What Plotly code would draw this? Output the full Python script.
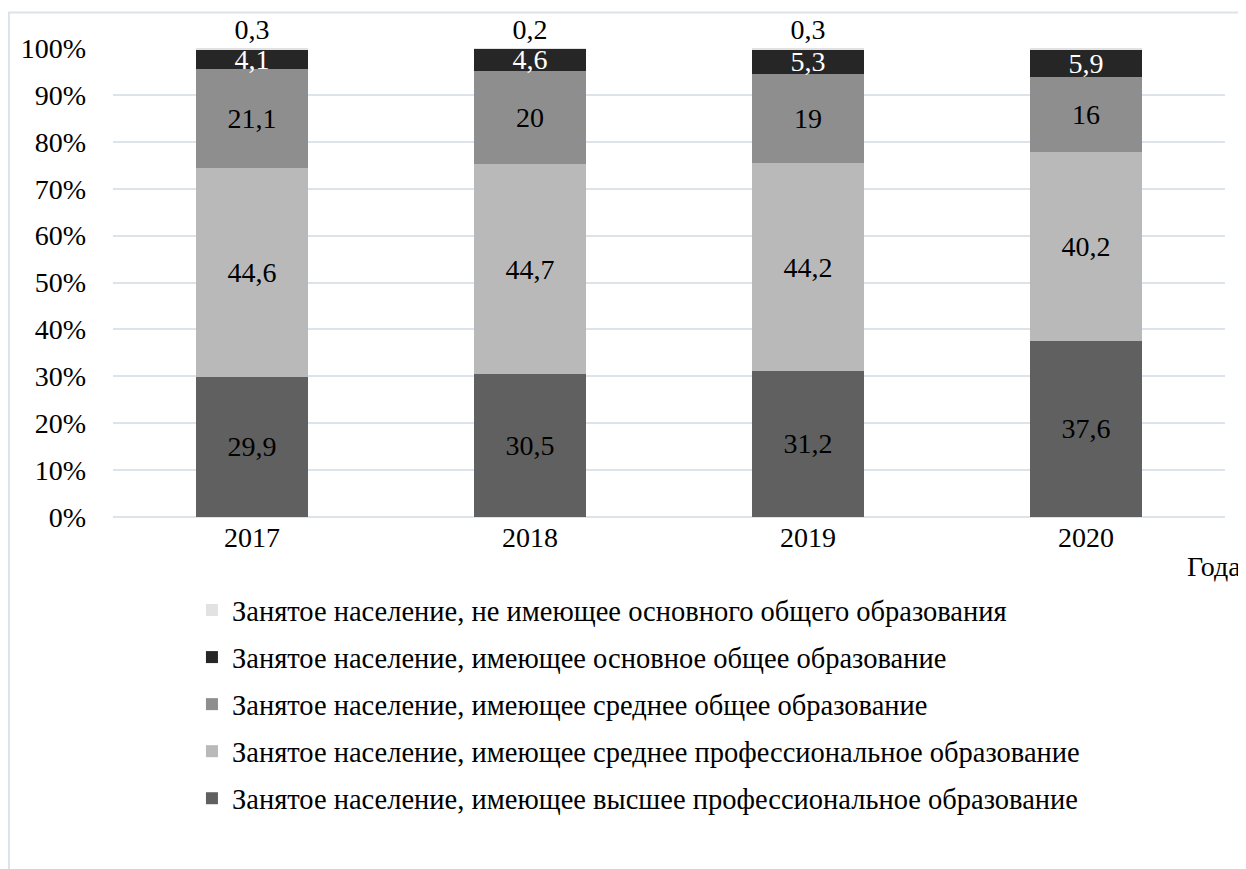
import plotly.graph_objects as go

years = ["2017", "2018", "2019", "2020"]
series_names = [
    "Занятое население, имеющее высшее профессиональное образование",
    "Занятое население, имеющее среднее профессиональное образование",
    "Занятое население, имеющее среднее общее образование",
    "Занятое население, имеющее основное общее образование",
    "Занятое население, не имеющее основного общего образования",
]
higher_prof = [29.9, 30.5, 31.2, 37.6]
secondary_prof = [44.6, 44.7, 44.2, 40.2]
secondary_general = [21.1, 20, 19, 16]
basic_general = [4.1, 4.6, 5.3, 5.9]
no_basic = [0.3, 0.2, 0.3, 0.3]

series_values = [higher_prof, secondary_prof, secondary_general, basic_general, no_basic]
colors = ["#606060", "#b9b9b9", "#8e8e8e", "#262626", "#e2e2e2"]
text_colors = ["black", "black", "black", "white", "black"]
positions = ["inside", "inside", "inside", "inside", "outside"]

FONT = "Liberation Serif"
FS = 28

fig = go.Figure()
for i, (name, vals) in enumerate(zip(series_names, series_values)):
    fig.add_trace(go.Bar(
        x=years, y=vals, name=name,
        marker=dict(color=colors[i], line=dict(width=0)),
        text=[str(v).replace(".", ",") if v != int(v) else str(int(v)) for v in vals],
        textposition=positions[i],
        insidetextanchor="middle",
        constraintext="none",
        textfont=dict(family=FONT, size=FS, color=text_colors[i]),
        cliponaxis=False,
        legendgroup=str(i),
        legendrank=100 - i,
        hoverinfo="skip",
    ))

fig.update_layout(
    barmode="stack",
    bargap=0.597,
    width=1246, height=869,
    margin=dict(l=105, r=29, t=40, b=360),
    paper_bgcolor="white",
    plot_bgcolor="white",
    font=dict(family=FONT, size=FS, color="black"),
    showlegend=True,
    legend=dict(
        traceorder="grouped",
        tracegroupgap=7,
        x=0.071, y=-0.145, xanchor="left", yanchor="top",
        font=dict(family=FONT, size=28.5, color="black"),
        bgcolor="rgba(0,0,0,0)",
    ),
    xaxis=dict(
        showgrid=False, showline=False, ticks="",
        tickfont=dict(family=FONT, size=FS),
        ticklabelstandoff=1,
    ),
    yaxis=dict(
        range=[0, 100], tickvals=[0, 10, 20, 30, 40, 50, 60, 70, 80, 90, 100],
        ticktext=[f"{v}%" for v in range(0, 101, 10)],
        showgrid=True, gridcolor="#dde3ea", gridwidth=2,
        zeroline=True, zerolinecolor="#dde3ea", zerolinewidth=2,
        showline=False, ticks="",
        tickfont=dict(family=FONT, size=FS),
        ticklabelstandoff=26,
    ),
    annotations=[dict(
        text="Года", xref="paper", yref="paper",
        x=1.016, y=-0.105, xanchor="right", yanchor="middle",
        showarrow=False, font=dict(family=FONT, size=FS, color="black"),
    )],
    shapes=[dict(
        type="rect", xref="paper", yref="paper",
        x0=-0.0935, x1=1.04, y0=-0.8, y1=1.0757,
        line=dict(color="#dde3ea", width=2), fillcolor="rgba(0,0,0,0)",
        layer="below",
    )],
)

fig.write_html("out.html")
